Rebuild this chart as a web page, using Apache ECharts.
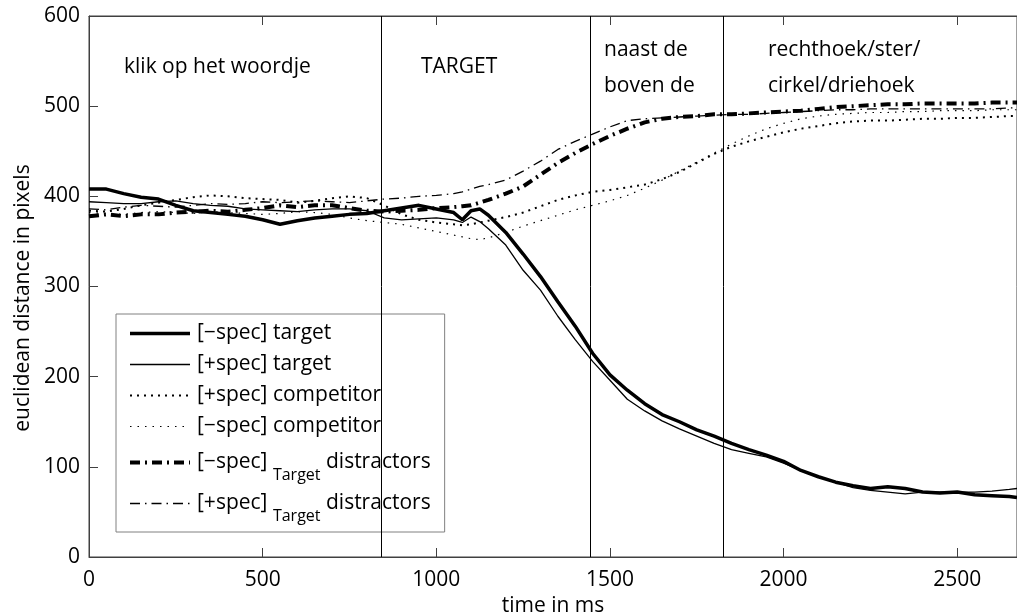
<!DOCTYPE html>
<html>
<head>
<meta charset="utf-8">
<script src="https://cdn.jsdelivr.net/npm/echarts@6/dist/echarts.min.js"></script>
<style>
html,body{margin:0;padding:0;background:#fff;}
#chart{width:1017px;height:613px;}
</style>
</head>
<body>
<div id="chart"></div>
<script>
// time axis (ms)
var time = [0,50,100,150,200,250,300,350,400,450,500,550,600,650,700,750,800,850,900,950,1000,1050,1075,1100,1125,1150,1200,1250,1300,1350,1400,1450,1500,1550,1600,1650,1700,1750,1800,1850,1900,1950,2000,2050,2100,2150,2200,2250,2300,2350,2400,2450,2500,2550,2600,2650,2672];

// [−spec] target (thick solid)
var minusTarget = [408,408,403,399,397,390,384,382,380,378,374,369,373,376,378,380,381,384,387,390,386,382,374,384,386,379,360,336,311,283,256,226,202,185,170,158,150,141,134,126,119,113,106,96,89,83,79,76,78,76,72,71,72,69,68,67,66];
// [+spec] target (thin solid)
var plusTarget = [394,393,392,392,394,395,392,390,389,386,385,384,383,385,386,386,384,376,374,375,376,374,371,377,372,364,346,318,296,267,241,217,196,175,162,151,142,134,126,119,115,111,104,96,89,83,77,74,72,70,72,72,72,72,73,75,76];
// [+spec] competitor (heavy dots)
var plusComp = [384,383,386,390,393,396,399,401,400,398,397,396,393,395,398,400,398,390,380,374,371,369,368,369,371,373,377,382,389,396,401,405,407,410,413,419,427,437,447,455,461,466,471,475,478,481,483,484,484,485,486,486,487,487,488,489,489];
// [−spec] competitor (light dots)
var minusComp = [382,381,380,382,383,382,381,383,382,381,380,381,383,382,380,376,373,371,369,365,361,357,355,353,352,354,360,367,373,379,385,390,395,401,409,418,428,438,448,458,467,475,481,486,489,491,492,493,493,494,494,495,495,495,496,496,496];
// [−spec]Target distractors (thick dash-dot)
var minusDist = [378,380,378,380,380,382,383,384,383,385,387,390,388,390,390,387,384,383,384,385,387,388,389,390,393,396,403,411,424,437,448,458,467,475,482,486,488,489,491,491,492,493,494,495,497,499,500,501,502,502,503,503,503,503,504,504,504];
// [+spec]Target distractors (thin dash-dot)
var plusDist = [386,385,388,390,389,388,390,392,391,392,394,393,394,395,394,393,395,397,398,400,401,403,405,408,411,413,418,428,439,452,461,469,477,484,486,487,488,489,490,491,491,492,493,494,495,496,496,497,497,497,497,497,497,497,497,498,498];

// phase boundaries (ms)
var boundaries = [841, 1443, 1826];

var seriesNames = ['[−spec] target','[+spec] target','[+spec] competitor','[−spec] competitor','[−spec]Target distractors','[+spec]Target distractors'];
var xTicks = {min: 0, max: 2672, interval: 500};
var yTicks = {min: 0, max: 600, interval: 100};

var FONT = '"Open Sans", "Noto Sans", sans-serif';

function pairs(vals){ return time.map(function(t,i){ return [t, vals[i]]; }); }
function plain(v){ return String(v); }

var chart = echarts.init(document.getElementById('chart'), null, {renderer:'canvas'});

var axisCol = '#404040';
var option = {
  animation: false,
  backgroundColor: '#fff',
  grid: {left: 89, right: 0, top: 16, bottom: 56, containLabel: false, outerBoundsMode: 'none',
         show: true, borderColor: axisCol, borderWidth: 1, backgroundColor: 'transparent'},
  xAxis: [{
    type: 'value', min: xTicks.min, max: xTicks.max, interval: xTicks.interval, position: 'bottom',
    axisLine: {show: true, onZero: false, lineStyle: {color: axisCol, width: 1}},
    axisTick: {show: true, inside: true, length: 9, lineStyle: {color: axisCol}},
    axisLabel: {fontSize: 21, color: '#000', margin: 13, fontFamily: FONT, showMaxLabel: false, formatter: plain},
    splitLine: {show: false},
    name: 'time in ms', nameLocation: 'middle', nameGap: 30,
    nameTextStyle: {fontSize: 21, color: '#000', fontFamily: FONT}
  }, {
    type: 'value', min: xTicks.min, max: xTicks.max, interval: xTicks.interval, position: 'top',
    axisLine: {show: true, onZero: false, lineStyle: {color: axisCol, width: 1}},
    axisTick: {show: true, inside: true, length: 9, lineStyle: {color: axisCol}},
    axisLabel: {show: false}, splitLine: {show: false}
  }],
  yAxis: [{
    type: 'value', min: yTicks.min, max: yTicks.max, interval: yTicks.interval,
    axisLine: {show: true, onZero: false, lineStyle: {color: axisCol, width: 1}},
    axisTick: {show: true, inside: true, length: 9, lineStyle: {color: axisCol}},
    axisLabel: {fontSize: 21, color: '#000', margin: 9, fontFamily: FONT, formatter: plain},
    splitLine: {show: false},
    name: 'euclidean distance in pixels', nameLocation: 'middle', nameGap: 46,
    nameTextStyle: {fontSize: 21, color: '#000', fontFamily: FONT, padding: [0, 23, 0, 0]}
  }],
  legend: {
    orient: 'vertical', left: 116, top: 314,
    itemWidth: 60, itemHeight: 14, itemGap: 0,
    padding: [4, 14, 8, 12],
    borderColor: '#808080', borderWidth: 1, backgroundColor: '#fff',
    selectedMode: false,
    lineStyle: {width: 'inherit'},
    itemStyle: {color: 'rgba(0,0,0,0)', borderWidth: 0, opacity: 0},
    textStyle: {
      fontFamily: FONT, fontSize: 21, color: '#000', lineHeight: 31, padding: [0,0,0,2],
      rich: {
        m: {fontFamily: FONT, fontSize: 21, color: '#000', lineHeight: 41},
        s: {fontFamily: FONT, fontSize: 16, color: '#000', lineHeight: 18, verticalAlign: 'bottom'}
      }
    },
    formatter: function(name){
      var idx = name.indexOf('Target');
      if (idx < 0) return name;
      return '{m|' + name.slice(0, idx) + ' }{s|Target}{m| ' + name.slice(idx + 6).trim() + '}';
    },
    data: seriesNames
  },
  graphic: [
    {type: 'text', x: 124, y: 67, z: 10, style: {text: 'klik op het woordje', font: '21px ' + FONT, fill: '#000', verticalAlign: 'middle'}},
    {type: 'text', x: 421, y: 67, z: 10, style: {text: 'TARGET', font: '21px ' + FONT, fill: '#000', verticalAlign: 'middle'}},
    {type: 'text', x: 604, y: 68, z: 10, style: {text: 'naast de\nboven de', font: '21px ' + FONT, fill: '#000', verticalAlign: 'middle', lineHeight: 36}},
    {type: 'text', x: 768, y: 68, z: 10, style: {text: 'rechthoek/ster/\ncirkel/driehoek', font: '21px ' + FONT, fill: '#000', verticalAlign: 'middle', lineHeight: 36}}
  ],
  series: [
    {name: seriesNames[0], type: 'line', data: pairs(minusTarget), symbol: 'none', z: 6,
     itemStyle: {color: '#000'},
     lineStyle: {color: '#000', width: 3.5},
     markLine: {silent: true, symbol: 'none', label: {show: false},
       lineStyle: {color: '#000', width: 1, type: 'solid'},
       data: boundaries.map(function(b){ return {xAxis: b}; })}},
    {name: seriesNames[1], type: 'line', data: pairs(plusTarget), symbol: 'none', z: 5,
     itemStyle: {color: '#000'},
     lineStyle: {color: '#000', width: 1.3}},
    {name: seriesNames[2], type: 'line', data: pairs(plusComp), symbol: 'none', z: 4,
     itemStyle: {color: '#000'},
     lineStyle: {color: '#000', width: 2, type: [2, 5], cap: 'butt'}},
    {name: seriesNames[3], type: 'line', data: pairs(minusComp), symbol: 'none', z: 4,
     itemStyle: {color: '#000'},
     lineStyle: {color: '#000', width: 1.2, type: [1.5, 6], cap: 'butt'}},
    {name: seriesNames[4], type: 'line', data: pairs(minusDist), symbol: 'none', z: 4,
     itemStyle: {color: '#000'},
     lineStyle: {color: '#000', width: 4, type: [10, 5, 2, 5], cap: 'butt'}},
    {name: seriesNames[5], type: 'line', data: pairs(plusDist), symbol: 'none', z: 4,
     itemStyle: {color: '#000'},
     lineStyle: {color: '#000', width: 1.3, type: [10, 5, 1.5, 5], cap: 'butt'}}
  ]
};
chart.setOption(option);
</script>
</body>
</html>
